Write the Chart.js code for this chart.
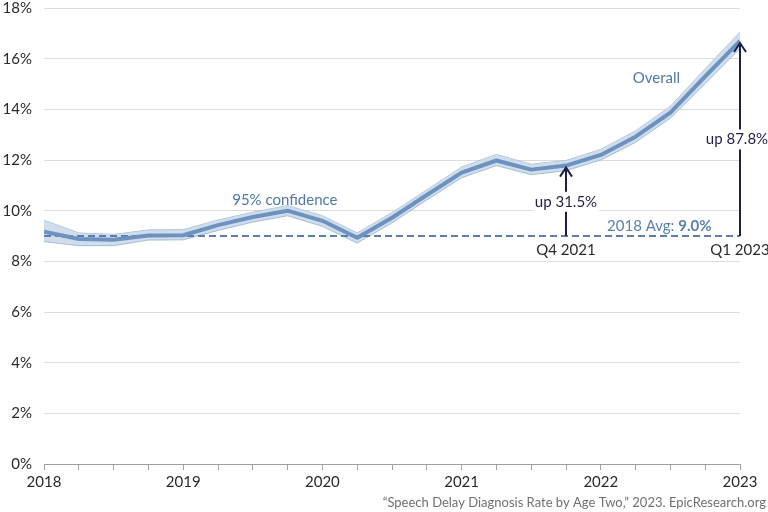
<!DOCTYPE html>
<html><head><meta charset="utf-8">
<script src="https://cdn.jsdelivr.net/npm/chart.js@4.4.0/dist/chart.umd.min.js"></script>
<style>html,body{margin:0;padding:0;background:#fff;overflow:hidden;}#wrap{width:768px;height:512px;position:relative;overflow:hidden;}#c{position:absolute;left:0;top:-13px;}</style>
</head><body><div id="wrap"><canvas id="c" width="768" height="525"></canvas></div>
<script>
// ---- data ----
const quarters = [2018, 2018.25, 2018.5, 2018.75, 2019, 2019.25, 2019.5, 2019.75, 2020, 2020.25, 2020.5, 2020.75, 2021, 2021.25, 2021.5, 2021.75, 2022, 2022.25, 2022.5, 2022.75, 2023];
const overallRate = [9.17, 8.88, 8.85, 9.02, 9.03, 9.43, 9.75, 10.0, 9.6, 8.93, 9.72, 10.62, 11.5, 11.98, 11.62, 11.78, 12.2, 12.92, 13.87, 15.3, 16.7];
const upperCI = [9.62, 9.12, 9.06, 9.24, 9.25, 9.63, 9.94, 10.2, 9.8, 9.12, 9.92, 10.82, 11.72, 12.22, 11.83, 11.98, 12.42, 13.15, 14.12, 15.6, 17.05];
const lowerCI = [8.78, 8.62, 8.62, 8.84, 8.85, 9.22, 9.55, 9.8, 9.38, 8.72, 9.52, 10.42, 11.3, 11.78, 11.42, 11.58, 12.0, 12.7, 13.65, 15.02, 16.4];
const baselineAvg = 9.0;
const yTickValues = [0, 2, 4, 6, 8, 10, 12, 14, 16, 18];
const yearLabels = [2018, 2019, 2020, 2021, 2022, 2023];
const calloutQuarters = [2021.75, 2023];
const calloutNames = ['Q4 2021', 'Q1 2023'];
const calloutChanges = ['up 31.5%', 'up 87.8%'];
const sourceText = '\u201CSpeech Delay Diagnosis Rate by Age Two,\u201D 2023. EpicResearch.org';

const FONT = 'Lato, "Open Sans", sans-serif';
const pts = arr => quarters.map((q, i) => ({x: q, y: arr[i]}));

const annotate = {
  id: 'annotate',
  afterDatasetsDraw(chart) {
    const ctx = chart.ctx, xs = chart.scales.x, ys = chart.scales.y;
    const yBase = ys.getPixelForValue(baselineAvg);
    ctx.save();
    calloutQuarters.forEach((q, k) => {
      const idx = quarters.indexOf(q);
      const px = xs.getPixelForValue(q);
      const tip = ys.getPixelForValue(overallRate[idx]) + 2;
      ctx.strokeStyle = '#1e1f47';
      ctx.lineWidth = 2;
      ctx.beginPath();
      ctx.moveTo(px, yBase); ctx.lineTo(px, tip);
      ctx.moveTo(px - 6, tip + 9); ctx.lineTo(px, tip); ctx.lineTo(px + 6, tip + 9);
      ctx.stroke();
      ctx.font = '15px ' + FONT;
      const mid = (yBase + tip) / 2;
      const w = ctx.measureText(calloutChanges[k]).width;
      ctx.fillStyle = '#fff';
      ctx.fillRect(px - w / 2 - 2, mid - 10, w + 4, 20);
      ctx.fillStyle = '#1e1f47';
      ctx.textAlign = 'center'; ctx.textBaseline = 'middle';
      ctx.fillText(calloutChanges[k], k === 1 ? px - 3 : px, mid);
      ctx.fillStyle = '#2a2a2a';
      ctx.fillText(calloutNames[k], px, yBase + 14);
    });
    ctx.fillStyle = '#4f79a6';
    ctx.font = '15px ' + FONT;
    ctx.textAlign = 'center'; ctx.textBaseline = 'middle';
    ctx.fillText('95% confidence', xs.getPixelForValue(2019.73), ys.getPixelForValue(10.42));
    ctx.fillText('Overall', xs.getPixelForValue(2022.4), ys.getPixelForValue(15.24));
    const t1 = '2018 Avg: ', t2 = baselineAvg.toFixed(1) + '%';
    ctx.font = '15px ' + FONT;
    const w1 = ctx.measureText(t1).width;
    ctx.font = 'bold 15px ' + FONT;
    const w2 = ctx.measureText(t2).width;
    const cx = xs.getPixelForValue(2022.42);
    const x0 = cx - (w1 + w2) / 2;
    ctx.textAlign = 'left';
    ctx.fillStyle = '#5a80aa';
    ctx.font = '15px ' + FONT;
    ctx.fillText(t1, x0, yBase - 10);
    ctx.font = 'bold 15px ' + FONT;
    ctx.fillText(t2, x0 + w1, yBase - 10);
    ctx.font = '13px ' + FONT;
    ctx.fillStyle = '#707070';
    ctx.textAlign = 'right';
    ctx.fillText(sourceText, 766, chart.height - 9);
    ctx.restore();
  }
};

new Chart(document.getElementById('c'), {
  type: 'line',
  data: {
    datasets: [
      {label: 'upper', data: pts(upperCI), borderColor: '#a3bcd9', borderWidth: 1, pointRadius: 0, fill: false, order: 5, tension: 0},
      {label: 'lower', data: pts(lowerCI), borderColor: '#a3bcd9', borderWidth: 1, pointRadius: 0, fill: '-1', backgroundColor: 'rgba(200,215,232,0.85)', order: 4, tension: 0},
      {label: 'avg', data: [{x: quarters[0], y: baselineAvg}, {x: quarters[quarters.length - 1], y: baselineAvg}], borderColor: '#5b7fa9', borderWidth: 2, borderDash: [7, 4], pointRadius: 0, fill: false, order: 3},
      {label: 'Overall', data: pts(overallRate), borderColor: '#6e92bf', borderWidth: 4, pointRadius: 0, fill: false, order: 1, tension: 0, borderJoinStyle: 'round'}
    ]
  },
  options: {
    responsive: false,
    animation: false,
    layout: {padding: {top: 0, right: 28, bottom: 20, left: 0}},
    plugins: {legend: {display: false}, tooltip: {enabled: false}},
    scales: {
      x: {
        type: 'linear', min: 2018, max: 2023,
        afterBuildTicks: s => { s.ticks = quarters.map(v => ({value: v})); },
        afterFit: s => { s.height = 28; },
        ticks: {
          autoSkip: false, maxRotation: 0, padding: 3,
          font: {family: FONT, size: 15}, color: '#2a2a2a',
          callback: v => yearLabels.includes(v) ? String(v) : ''
        },
        grid: {drawOnChartArea: false, drawTicks: true, tickLength: 6, color: '#a0a0a0'},
        border: {display: true, color: '#a0a0a0', width: 1}
      },
      y: {
        min: 0, max: 18,
        afterBuildTicks: s => { s.ticks = yTickValues.map(v => ({value: v})); },
        afterFit: s => { s.width = 44; },
        ticks: {padding: 12, font: {family: FONT, size: 15}, color: '#2a2a2a', callback: v => v + '%'},
        grid: {drawTicks: false, color: '#dcdcdc', lineWidth: 1},
        border: {display: false}
      }
    }
  },
  plugins: [annotate]
});
</script></body></html>
